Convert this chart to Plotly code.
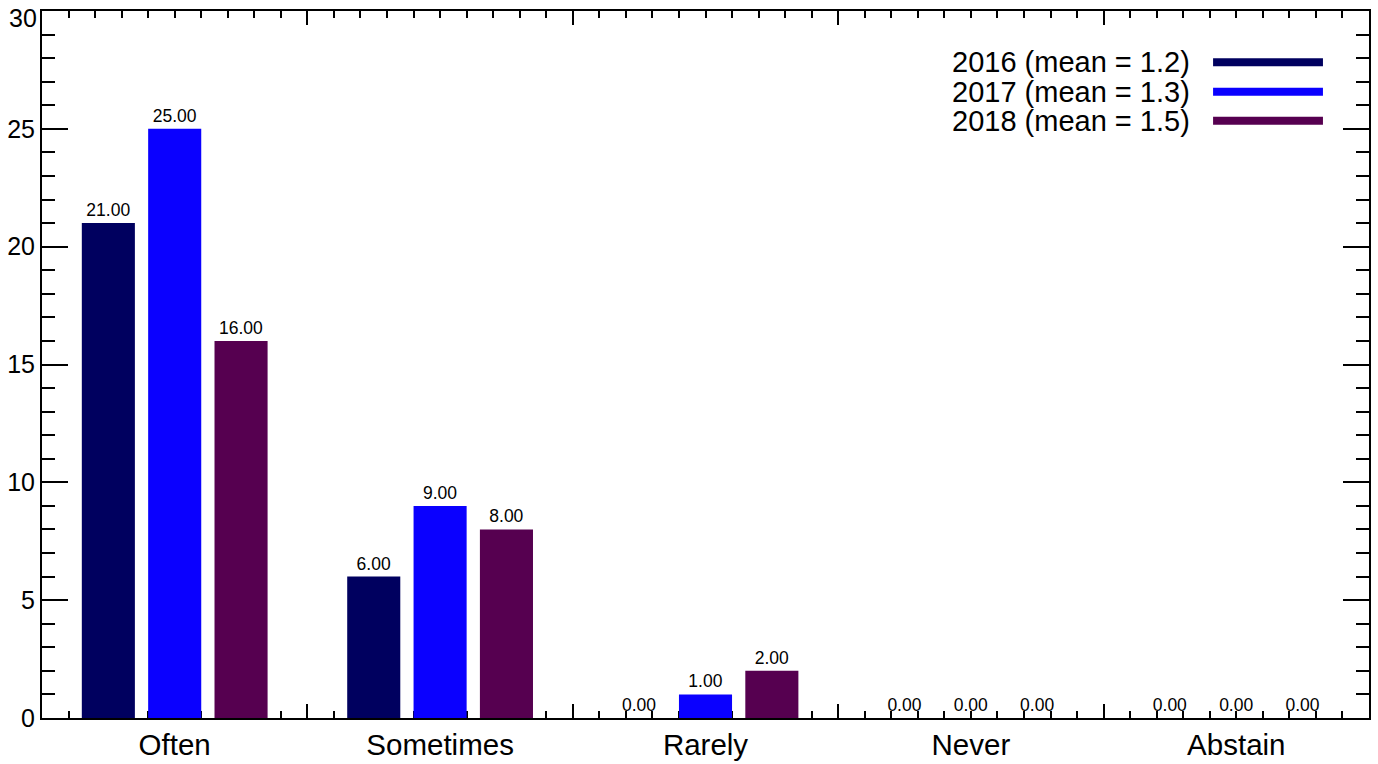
import plotly.graph_objects as go

categories = ["Often", "Sometimes", "Rarely", "Never", "Abstain"]
years = ["2016", "2017", "2018"]
means = [1.2, 1.3, 1.5]
values_2016 = [21, 6, 0, 0, 0]
values_2017 = [25, 9, 1, 0, 0]
values_2018 = [16, 8, 2, 0, 0]
y_ticks = [0, 5, 10, 15, 20, 25, 30]
colors = ["#00005f", "#0a00ff", "#560050"]

series = [values_2016, values_2017, values_2018]
x_idx = list(range(len(categories)))

font = "Liberation Sans, Arial, sans-serif"

fig = go.Figure()
for yr, vals, col in zip(years, series, colors):
    fig.add_trace(go.Bar(
        x=x_idx, y=vals, name=yr, marker=dict(color=col, line=dict(width=0)),
        text=vals, texttemplate="%{y:.2f}", textposition="outside",
        textfont=dict(size=17.5, color="black", family=font),
        cliponaxis=False, showlegend=False, xaxis="x", yaxis="y",
    ))

# invisible trace to carry category labels on overlaid axis
fig.add_trace(go.Scatter(x=x_idx, y=[None]*len(x_idx), xaxis="x2", yaxis="y",
                         showlegend=False, hoverinfo="skip"))

n = len(categories)
fig.update_layout(
    width=1378, height=764,
    margin=dict(l=42, r=9, t=11, b=46, autoexpand=False),
    paper_bgcolor="white", plot_bgcolor="white",
    barmode="group", bargap=0.25, bargroupgap=0.2,
    font=dict(family=font, color="black"),
    xaxis=dict(
        range=[-0.5, n - 0.5], tickmode="array",
        tickvals=[i + 0.5 for i in range(n - 1)], ticktext=[""] * (n - 1),
        ticks="inside", ticklen=14, tickwidth=2, tickcolor="black",
        minor=dict(dtick=0.1, tick0=-0.5, ticks="inside", ticklen=7, tickwidth=1.5, tickcolor="black", showgrid=False),
        showline=True, linewidth=2, linecolor="black", mirror="ticks",
        showgrid=False, zeroline=False, layer="below traces", automargin=False,
    ),
    xaxis2=dict(
        overlaying="x", anchor="y", side="bottom", matches="x",
        range=[-0.5, n - 0.5], tickmode="array", tickvals=x_idx, ticktext=categories,
        ticks="", showline=False, showgrid=False, zeroline=False, automargin=False,
        tickfont=dict(size=29.5, family=font, color="black"), ticklabelstandoff=6,
    ),
    yaxis=dict(
        range=[0, 30], tickmode="array", tickvals=y_ticks,
        ticktext=[str(v) for v in y_ticks[:-1]] + [""],
        ticks="inside", ticklen=26, tickwidth=2, tickcolor="black",
        minor=dict(dtick=1, ticks="inside", ticklen=13, tickwidth=1.5, tickcolor="black", showgrid=False),
        showline=True, linewidth=2, linecolor="black", mirror="ticks",
        showgrid=False, zeroline=False, layer="below traces", automargin=False,
        tickfont=dict(size=25, family=font, color="black"), ticklabelstandoff=0,
        ticklabeloverflow="allow",
    ),
)

# top tick label, nudged down so it stays inside the page (as in the reference)
fig.add_annotation(xref="paper", yref="y", x=0, y=y_ticks[-1], xanchor="right", yanchor="middle",
                   xshift=-3, yshift=-7, text=str(y_ticks[-1]), showarrow=False,
                   font=dict(size=25, family=font, color="black"))

# legend drawn as text + line swatch (text left, swatch right)
leg_y = [0.9275, 0.8859, 0.8448]
for yr, m, col, yy in zip(years, means, colors, leg_y):
    fig.add_annotation(xref="paper", yref="paper", x=0.8666, y=yy, xanchor="right", yanchor="middle",
                       text=f"{yr} (mean = {m:.1f})", showarrow=False,
                       font=dict(size=29, family=font, color="black"))
    fig.add_shape(type="line", xref="paper", yref="paper", x0=0.8825, x1=0.9653, y0=yy, y1=yy,
                  line=dict(color=col, width=8))

fig.write_html("out.html", config={"displayModeBar": False},
               post_script="document.body.style.margin='0';")
